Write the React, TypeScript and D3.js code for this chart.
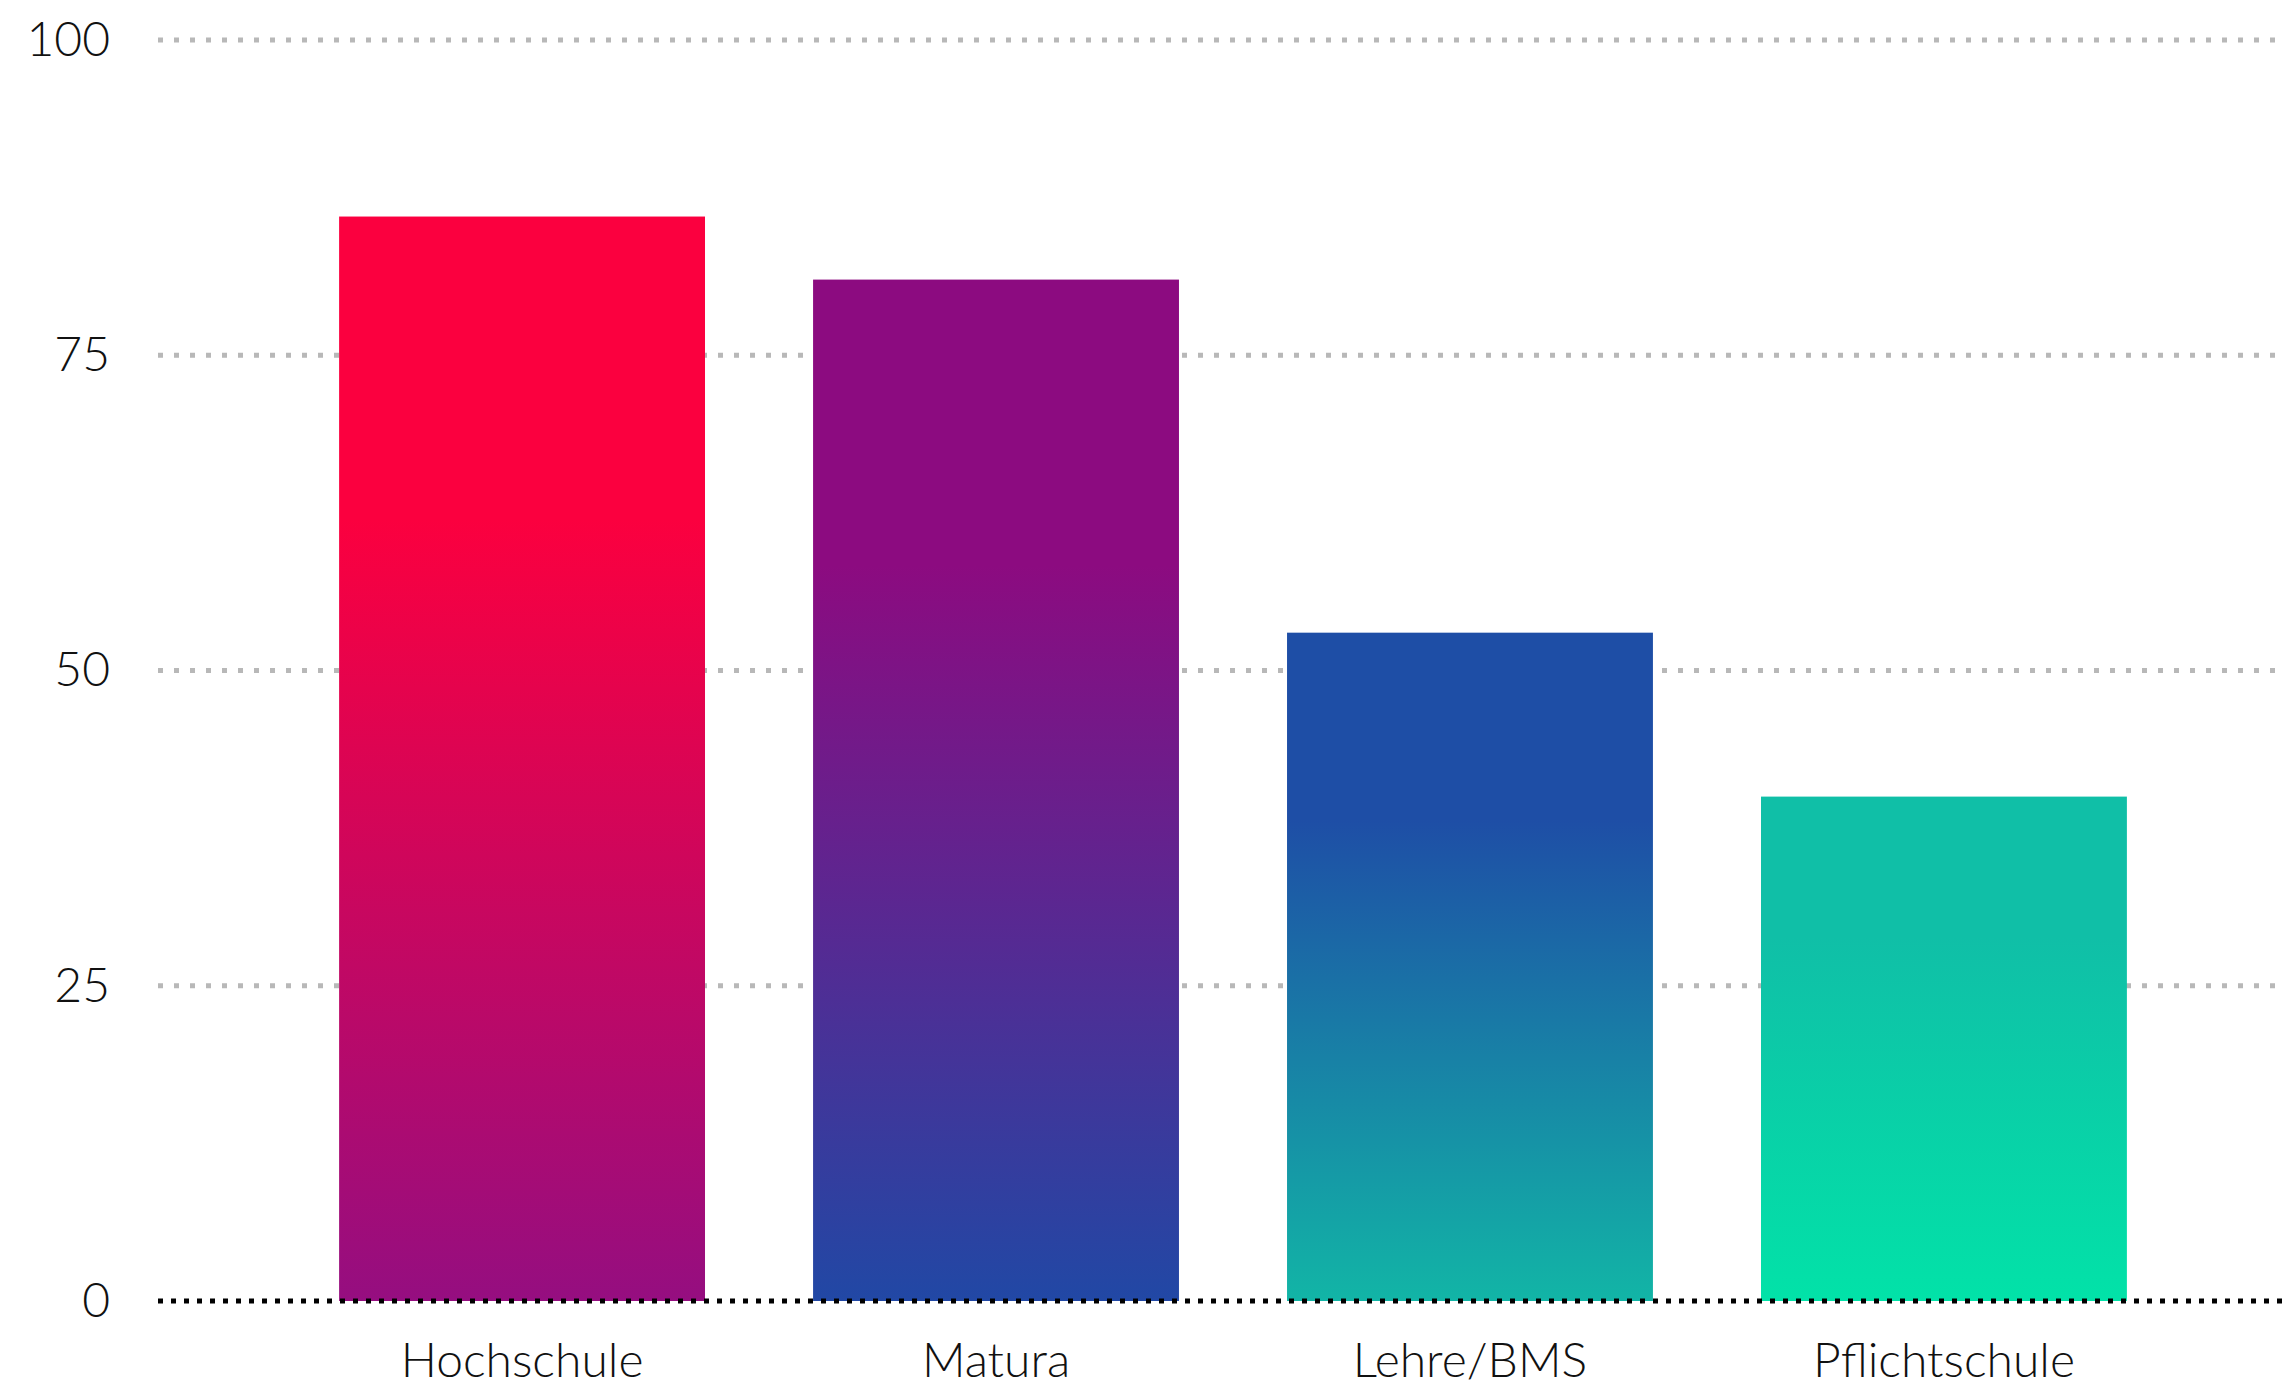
import React from "react";
import * as d3 from "d3";

const categories = ["Hochschule", "Matura", "Lehre/BMS", "Pflichtschule"];
const values = [86, 81, 53, 40];
const gradTop = ["#FB003F", "#8C0B80", "#1E4EA6", "#10BFA7"];
const gradBottom = ["#950E80", "#2148A5", "#12B5A6", "#02E2A8"];
const yTicks = [0, 25, 50, 75, 100];

const W = 2285;
const H = 1387;

export default function App() {
  const y = d3.scaleLinear().domain([0, 100]).range([1301, 40]);
  const x = d3
    .scaleBand<string>()
    .domain(categories)
    .range([250, 2216])
    .paddingInner(0.228)
    .paddingOuter(0.188);
  const font = "Lato, 'Open Sans', sans-serif";
  return (
    <svg
      width={W}
      height={H}
      style={{ position: "absolute", left: 0, top: 0, background: "#fff" }}
    >
      <defs>
        {categories.map((c, i) => (
          <linearGradient key={c} id={`g${i}`} x1="0" y1="0" x2="0" y2="1">
            <stop offset="0%" stopColor={gradTop[i]} />
            <stop offset="28%" stopColor={gradTop[i]} />
            <stop offset="100%" stopColor={gradBottom[i]} />
          </linearGradient>
        ))}
      </defs>
      {yTicks
        .filter((t) => t > 0)
        .map((t) => (
          <line
            key={t}
            x1={158}
            x2={W}
            y1={y(t)}
            y2={y(t)}
            stroke="#b8b8b8"
            strokeWidth={5}
            strokeDasharray="5 11"
          />
        ))}
      {categories.map((c, i) => (
        <rect
          key={c}
          x={x(c)}
          y={y(values[i])}
          width={x.bandwidth()}
          height={y(0) - y(values[i])}
          fill={`url(#g${i})`}
        />
      ))}
      <line
        x1={158}
        x2={W}
        y1={y(0)}
        y2={y(0)}
        stroke="#000"
        strokeWidth={5}
        strokeDasharray="5 8"
      />
      {yTicks.map((t) => (
        <text
          key={t}
          x={110}
          y={y(t) + 4}
          textAnchor="end"
          dominantBaseline="middle"
          fontFamily={font}
          fontWeight={300}
          fontSize={48}
          fill="#111"
        >
          {t}
        </text>
      ))}
      {categories.map((c) => (
        <text
          key={c}
          x={(x(c) as number) + x.bandwidth() / 2}
          y={1377}
          textAnchor="middle"
          fontFamily={font}
          fontWeight={300}
          fontSize={48}
          fill="#111"
        >
          {c}
        </text>
      ))}
    </svg>
  );
}
